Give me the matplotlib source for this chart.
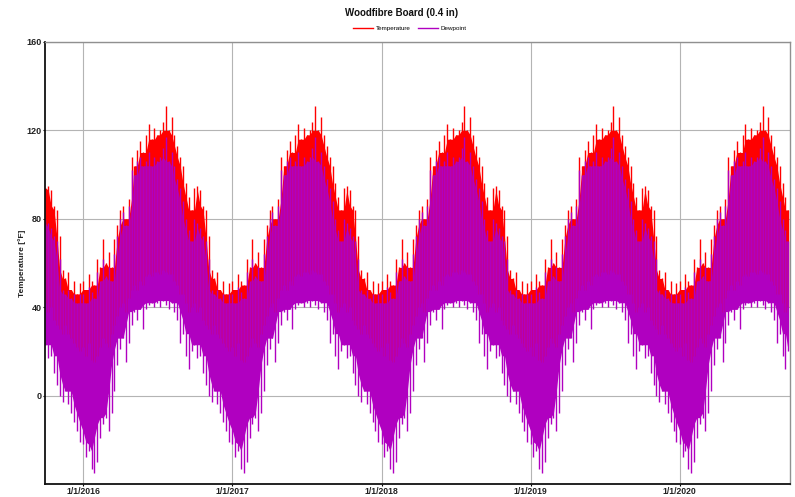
import pandas as pd
import matplotlib
matplotlib.use('Agg')
import matplotlib.pyplot as plt
from matplotlib.lines import Line2D

# weekly envelopes of one year (week 0 starts on 1 Jan).
# the simulation reruns the same weather year, so every year looks alike.
temp_high = [52, 48, 55, 52, 50, 62, 58, 71, 60, 65, 58, 71,
             77, 84, 86, 80, 89, 108, 104, 111, 115, 110, 118, 123,
             116, 121, 118, 120, 124, 131, 120, 126, 118, 113, 108, 104,
             96, 90, 84, 94, 95, 93, 86, 84, 72, 57, 53, 56,
             48, 52, 46, 51]
temp_low = [22, 18, 24, 16, 15, 18, 22, 26, 24, 22, 28, 32,
            36, 40, 42, 38, 44, 48, 50, 48, 52, 50, 54, 55,
            54, 56, 56, 55, 57, 56, 55, 55, 52, 50, 46, 46,
            42, 38, 40, 42, 38, 40, 34, 32, 30, 28, 32, 28,
            26, 24, 22, 20]
dew_high = [46, 42, 49, 47, 44, 56, 52, 62, 54, 58, 52, 64,
            72, 80, 83, 77, 86, 102, 100, 106, 108, 104, 106, 110,
            104, 108, 106, 108, 112, 117, 106, 110, 104, 98, 94, 88,
            80, 75, 70, 80, 78, 76, 72, 70, 62, 48, 46, 48,
            44, 46, 42, 46]
dew_low = [-22, -28, -25, -33, -35, -30, -19, -13, -10, -16, -8, 2,
           14, 21, 26, 15, 24, 32, 38, 34, 39, 30, 39, 41,
           42, 40, 42, 40, 43, 41, 39, 42, 38, 34, 24, 28,
           18, 12, 20, 23, 17, 18, 10, 5, 0, -3, 2, -4,
           -8, -12, -16, -21]

years = [2015, 2016, 2017, 2018, 2019, 2020]
start, end = '2015-10-01', '2020-09-26'
tick_dates = ['2016-01-01', '2017-01-01', '2018-01-01', '2019-01-01', '2020-01-01']
tick_labels = ['1/1/2016', '1/1/2017', '1/1/2018', '1/1/2019', '1/1/2020']
y_ticks = [0, 40, 80, 120, 160]

RED = '#ff0000'
PURPLE = '#b000c0'

plt.rcParams['font.family'] = ['Liberation Sans', 'DejaVu Sans']


def weekly(high, low):
    # one row per week with the range the hourly trace sweeps through
    rows = []
    for year in years:
        jan1 = pd.Timestamp(year=year, month=1, day=1)
        for week in range(52):
            rows.append((jan1 + pd.Timedelta(days=7 * week), high[week], low[week]))
    frame = pd.DataFrame(rows, columns=['time', 'high', 'low']).set_index('time')
    return frame[start:end]


def draw_trace(ax, frame, color):
    # solid body where neighbouring weeks overlap, thin spikes beyond it
    body_high = frame['high'].rolling(3, center=True, min_periods=1).min()
    body_low = frame['low'].rolling(5, center=True, min_periods=1).max()
    ax.fill_between(frame.index, body_low, body_high, color=color, lw=0)
    ax.vlines(frame.index, frame['low'], frame['high'], color=color, lw=1.0)


def draw():
    temp = weekly(temp_high, temp_low)
    dew = weekly(dew_high, dew_low)

    fig = plt.figure(figsize=(7.95, 4.97), dpi=100)
    ax = fig.add_axes([0.0566, 0.0262, 0.937, 0.8893])
    draw_trace(ax, temp, RED)
    draw_trace(ax, dew, PURPLE)

    ax.set_xlim(pd.Timestamp('2015-09-30'), pd.Timestamp('2020-09-27'))
    ax.set_ylim(-40, 160)
    ax.set_yticks(y_ticks)
    ax.set_yticklabels([str(v) for v in y_ticks], fontsize=6.5, fontweight='bold', color='#222222')
    ax.set_xticks(pd.to_datetime(tick_dates))
    ax.set_xticklabels(tick_labels, fontsize=6.2, fontweight='bold', color='#222222')
    ax.tick_params(axis='both', length=1.5, width=0.8, pad=0.8)

    ax.set_axisbelow(True)
    ax.grid(True, color='#b4b4b4', lw=0.8)
    for side in ['top', 'right']:
        ax.spines[side].set_color('#909090')
        ax.spines[side].set_linewidth(1.0)
    for side in ['left', 'bottom']:
        ax.spines[side].set_color('#111111')
        ax.spines[side].set_linewidth(1.3)

    fig.text(22 / 795, 1 - 263 / 497, 'Temperature [°F]', rotation=90,
             ha='center', va='center', fontsize=6, fontweight='bold', color='#222222')
    fig.text(402 / 795, 1 - 13 / 497, 'Woodfibre Board (0.4 in)',
             ha='center', va='center', fontsize=7, fontweight='bold', color='#111111')
    handles = [Line2D([], [], color=RED, lw=1.0), Line2D([], [], color=PURPLE, lw=1.0)]
    fig.legend(handles, ['Temperature', 'Dewpoint'], loc='center',
               bbox_to_anchor=(410 / 795, 1 - 28 / 497), ncol=2,
               frameon=False, fontsize=4.5, handlelength=3.2, handletextpad=0.4,
               columnspacing=1.2, borderpad=0)

    fig.savefig('out.png', dpi=100)


if __name__ == '__main__':
    draw()
